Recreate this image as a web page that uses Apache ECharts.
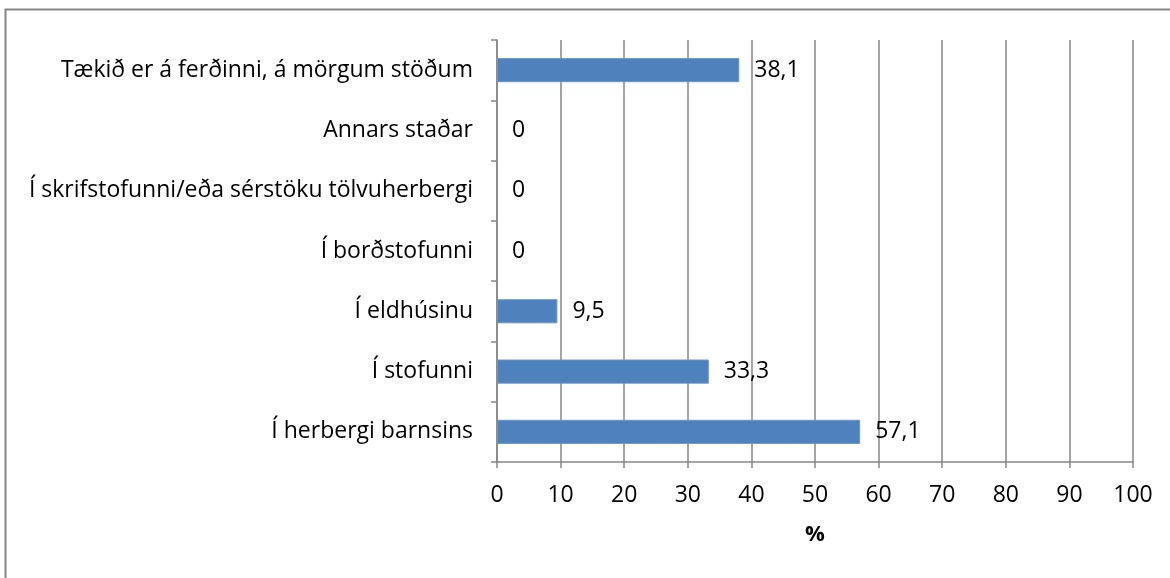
<!DOCTYPE html>
<html>
<head>
<meta charset="utf-8">
<script src="https://cdn.jsdelivr.net/npm/echarts@6/dist/echarts.min.js"></script>
<style>
html,body{margin:0;padding:0;background:#fff;}
#c{width:1170px;height:578px;}
</style>
</head>
<body>
<div id="c"></div>
<script>
var categories = [
  "Í herbergi barnsins",
  "Í stofunni",
  "Í eldhúsinu",
  "Í borðstofunni",
  "Í skrifstofunni/eða sérstöku tölvuherbergi",
  "Annars staðar",
  "Tækið er á ferðinni, á mörgum stöðum"
];
var values = [57.1, 33.3, 9.5, 0, 0, 0, 38.1];
var xTicks = [0, 10, 20, 30, 40, 50, 60, 70, 80, 90, 100];
var axisTitle = "%";

var font = "'Open Sans', sans-serif";
var chart = echarts.init(document.getElementById('c'), null, {renderer: 'canvas'});
chart.setOption({
  animation: false,
  backgroundColor: '#fff',
  graphic: [{
    type: 'rect',
    shape: {x: 5.5, y: 9.5, width: 1200, height: 600},
    style: {fill: 'none', stroke: '#868686', lineWidth: 2},
    silent: true
  }],
  grid: {left: 497, right: 37, top: 40, bottom: 116, containLabel: false},
  xAxis: {
    type: 'value',
    min: xTicks[0],
    max: xTicks[xTicks.length - 1],
    interval: 10,
    name: axisTitle,
    nameLocation: 'middle',
    nameGap: 62,
    nameTextStyle: {fontFamily: font, fontSize: 22, fontWeight: 'bold', color: '#000'},
    axisLine: {show: true, lineStyle: {color: '#868686', width: 1.5}},
    axisTick: {show: true, length: 6, lineStyle: {color: '#868686', width: 1.5}},
    axisLabel: {fontFamily: font, fontSize: 23, color: '#000', margin: 22,
      formatter: function (v) { return xTicks.indexOf(v) >= 0 ? String(v) : ''; }},
    splitLine: {show: true, lineStyle: {color: '#868686', width: 1.5}}
  },
  yAxis: {
    type: 'category',
    data: categories,
    axisLine: {show: true, lineStyle: {color: '#868686', width: 1.5}},
    axisTick: {show: true, length: 6, lineStyle: {color: '#868686', width: 1.5}},
    axisLabel: {fontFamily: font, fontSize: 23, color: '#000', margin: 24},
    splitLine: {show: false}
  },
  series: [{
    type: 'bar',
    data: values.map(function (v) {
      return {value: v, itemStyle: {borderWidth: v === 0 ? 0 : 1}};
    }),
    barCategoryGap: '60%',
    itemStyle: {color: '#4f81bd', borderColor: '#6a96c8'},
    label: {
      show: true,
      position: 'right',
      distance: 15,
      fontFamily: font,
      fontSize: 23,
      color: '#000',
      formatter: function (p) { return String(p.value).replace('.', ','); }
    }
  }]
});
</script>
</body>
</html>
